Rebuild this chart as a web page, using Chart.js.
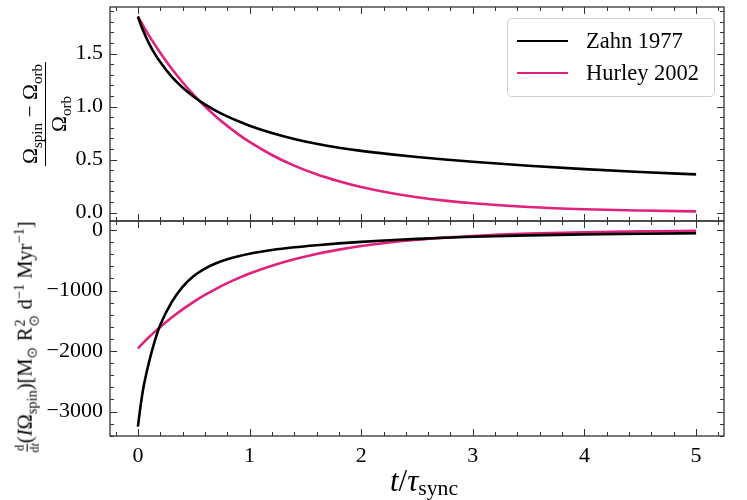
<!DOCTYPE html>
<html lang="en">
  <head>
    <meta charset="UTF-8" />
    <title>Spin synchronisation</title>
    <script src="https://cdn.jsdelivr.net/npm/chart.js"></script>
    <style>
      body {
        margin: 0;
        background: #fff;
        font-family: "Liberation Serif", serif;
        color: #000;
      }

      .wrap {
        position: relative;
        width: 747px;
        height: 500px;
      }

      .wrap canvas {
        position: absolute;
        left: 0;
        top: 0;
      }

      .label {
        position: absolute;
        white-space: nowrap;
        transform: translate(-50%, -50%);
        line-height: 1;
      }

      .rot {
        transform: translate(-50%, -50%) rotate(-90deg);
      }

      sub,
      sup {
        font-size: 70%;
        line-height: 0;
      }

      .supsub {
        display: inline-flex;
        flex-direction: column;
        vertical-align: middle;
        font-size: 70%;
        line-height: 1;
        margin-left: 1px;
      }

      .frac {
        display: inline-flex;
        flex-direction: column;
        align-items: center;
        vertical-align: middle;
      }

      .frac .num {
        border-bottom: 1.5px solid #000;
        padding: 0 2px 3px;
      }

      .frac .den {
        padding-top: 3px;
      }

      .small-frac {
        font-size: 60%;
      }

      .small-frac .num {
        border-bottom-width: 1px;
        padding: 0 1px 1px;
      }

      .small-frac .den {
        padding-top: 1px;
      }

      .xtitle sub {
        vertical-align: -0.2em;
      }

      .legend {
        position: absolute;
        left: 507px;
        top: 18px;
        width: 206px;
        height: 77px;
        border: 1px solid #d0d0d0;
        border-radius: 5px;
        background: rgba(255, 255, 255, 0.8);
        font-size: 22.5px;
      }

      .legend .row {
        position: absolute;
        left: 9px;
        display: flex;
        align-items: center;
      }

      .legend .swatch {
        display: inline-block;
        width: 51px;
        height: 2.5px;
        margin-right: 18px;
      }
    </style>
  </head>
  <body>
    <div class="wrap">
      <canvas id="topPanel" width="747" height="500"></canvas>
      <canvas id="bottomPanel" width="747" height="500"></canvas>

      <div class="label rot" style="left: 45px; top: 114px; font-size: 21.5px">
        <span class="frac">
          <span class="num">Ω<sub>spin</sub> − Ω<sub>orb</sub></span>
          <span class="den">Ω<sub>orb</sub></span>
        </span>
      </div>

      <div class="label rot" style="left: 27px; top: 337px; font-size: 20.5px">
        <span class="frac small-frac"><span class="num">d</span><span class="den">d<i>t</i></span></span>(<i>I</i>Ω<sub>spin</sub>)[M<sub>⊙</sub> R<span class="supsub"><span>2</span><span>⊙</span></span> d<sup>−1</sup> Myr<sup>−1</sup>]
      </div>

      <div class="label xtitle" style="left: 424px; top: 480px; font-size: 31px">
        <i>t</i>/<i>τ</i><sub>sync</sub>
      </div>

      <div class="legend">
        <div class="row" style="top: 9px"><span class="swatch" id="swZahn"></span>Zahn 1977</div>
        <div class="row" style="top: 41px"><span class="swatch" id="swHurley"></span>Hurley 2002</div>
      </div>
    </div>

    <script>
      // time in units of tau_sync
      const tVals = [
        0, 0.025, 0.05, 0.1, 0.15, 0.2, 0.3, 0.4, 0.5, 0.6, 0.7, 0.8, 0.9, 1.0,
        1.2, 1.4, 1.6, 1.8, 2.0, 2.25, 2.5, 2.75, 3.0, 3.5, 4.0, 4.5, 5.0,
      ];

      // top panel: (Omega_spin - Omega_orb) / Omega_orb
      const zahnRatio = [
        1.85, 1.775, 1.71, 1.595, 1.5, 1.42, 1.285, 1.18, 1.093, 1.021, 0.96,
        0.907, 0.861, 0.82, 0.751, 0.695, 0.649, 0.612, 0.582, 0.551, 0.524, 0.5,
        0.479, 0.442, 0.41, 0.383, 0.36,
      ];
      const hurleyRatio = [
        1.85, 1.803, 1.758, 1.67, 1.587, 1.509, 1.362, 1.23, 1.111, 1.003, 0.905,
        0.818, 0.738, 0.666, 0.543, 0.443, 0.361, 0.295, 0.24, 0.186, 0.144,
        0.112, 0.087, 0.052, 0.031, 0.019, 0.011,
      ];

      // bottom panel: d/dt (I Omega_spin)
      const zahnTorque = [
        -3251, -2895, -2600, -2180, -1840, -1570, -1200, -940, -760, -638, -548,
        -484, -432, -390, -330, -285, -250, -220, -195, -168, -145, -126, -110,
        -87, -71, -60, -52,
      ];
      const hurleyTorque = [
        -1955, -1907, -1860, -1769, -1683, -1601, -1449, -1311, -1186, -1073,
        -971, -878, -795, -719, -589, -482, -394, -323, -264, -206, -160, -125,
        -97, -59, -36, -22, -13,
      ];

      // tick positions
      const xMajor = [0, 1, 2, 3, 4, 5];
      const xMinor = [
        -0.2, 0.2, 0.4, 0.6, 0.8, 1.2, 1.4, 1.6, 1.8, 2.2, 2.4, 2.6, 2.8, 3.2,
        3.4, 3.6, 3.8, 4.2, 4.4, 4.6, 4.8, 5.2,
      ];
      const topMajor = [0, 0.5, 1.0, 1.5];
      const topMinor = [
        0.1, 0.2, 0.3, 0.4, 0.6, 0.7, 0.8, 0.9, 1.1, 1.2, 1.3, 1.4, 1.6, 1.7,
        1.8, 1.9,
      ];
      const bottomMajor = [-3000, -2000, -1000, 0];
      const bottomMinor = [
        -3400, -3200, -2800, -2600, -2400, -2200, -1800, -1600, -1400, -1200,
        -800, -600, -400, -200,
      ];

      const ZAHN_COLOR = "#000000";
      const HURLEY_COLOR = "#e0227c";
      const FRAME_COLOR = "#333333";
      const TICK_FONT = { family: "'Liberation Serif', serif", size: 22 };

      document.getElementById("swZahn").style.background = ZAHN_COLOR;
      document.getElementById("swHurley").style.background = HURLEY_COLOR;

      // inward major/minor ticks on all four sides plus the box
      const frameTicks = {
        id: "frameTicks",
        afterDatasetsDraw(chart, args, opts) {
          const { ctx, chartArea: a } = chart;
          const xs = chart.scales.x;
          const ys = chart.scales.y;
          ctx.save();
          ctx.strokeStyle = FRAME_COLOR;
          ctx.lineWidth = 1;
          ctx.beginPath();
          const markX = (vals, len) =>
            vals.forEach((v) => {
              const px = Math.round(xs.getPixelForValue(v)) + 0.5;
              ctx.moveTo(px, a.bottom);
              ctx.lineTo(px, a.bottom - len);
              ctx.moveTo(px, a.top);
              ctx.lineTo(px, a.top + len);
            });
          const markY = (vals, len) =>
            vals.forEach((v) => {
              const py = Math.round(ys.getPixelForValue(v)) + 0.5;
              ctx.moveTo(a.left, py);
              ctx.lineTo(a.left + len, py);
              ctx.moveTo(a.right, py);
              ctx.lineTo(a.right - len, py);
            });
          markX(xMajor, 7);
          markX(xMinor, 4);
          markY(opts.yMajor, 7);
          markY(opts.yMinor, 4);
          ctx.stroke();
          ctx.lineWidth = 1.3;
          ctx.strokeRect(a.left, a.top, a.right - a.left, a.bottom - a.top);
          ctx.restore();
        },
      };

      function makeSeries(label, values, color) {
        return {
          label: label,
          data: tVals.map((t, i) => ({ x: t, y: values[i] })),
          borderColor: color,
          borderWidth: 2.6,
          pointRadius: 0,
          fill: false,
          cubicInterpolationMode: "monotone",
        };
      }

      function makePanel(id, datasets, cfg) {
        return new Chart(document.getElementById(id), {
          type: "line",
          data: { datasets: datasets },
          options: {
            responsive: false,
            animation: false,
            layout: { padding: cfg.padding },
            plugins: {
              legend: { display: false },
              tooltip: { enabled: false },
              frameTicks: { yMajor: cfg.yMajor, yMinor: cfg.yMinor },
            },
            scales: {
              x: {
                type: "linear",
                min: -0.25,
                max: 5.25,
                grid: { display: false, drawTicks: false },
                border: { display: false },
                ticks: {
                  display: cfg.xLabels,
                  padding: 7,
                  maxRotation: 0,
                  color: "#000",
                  font: TICK_FONT,
                  callback: (v) => String(v),
                },
                afterBuildTicks: (s) => {
                  s.ticks = xMajor.map((v) => ({ value: v }));
                },
                afterFit: (s) => {
                  s.height = cfg.xLabels ? 64 : 0;
                  s.paddingLeft = 0;
                  s.paddingRight = 0;
                },
              },
              y: {
                type: "linear",
                min: cfg.yMin,
                max: cfg.yMax,
                grid: { display: false, drawTicks: false },
                border: { display: false },
                ticks: {
                  padding: 7,
                  color: "#000",
                  font: TICK_FONT,
                  callback: cfg.yFormat,
                },
                afterBuildTicks: (s) => {
                  s.ticks = cfg.yMajor.map((v) => ({ value: v }));
                },
                afterFit: (s) => {
                  s.width = 110;
                  s.paddingTop = 0;
                  s.paddingBottom = 0;
                },
              },
            },
          },
          plugins: [frameTicks],
        });
      }

      makePanel(
        "topPanel",
        [
          makeSeries("Zahn 1977", zahnRatio, ZAHN_COLOR),
          makeSeries("Hurley 2002", hurleyRatio, HURLEY_COLOR),
        ],
        {
          padding: { top: 7, right: 23, bottom: 279, left: 0 },
          yMin: -0.08,
          yMax: 1.94,
          yMajor: topMajor,
          yMinor: topMinor,
          yFormat: (v) => Number(v).toFixed(1),
          xLabels: false,
        }
      );

      makePanel(
        "bottomPanel",
        [
          makeSeries("Zahn 1977", zahnTorque, ZAHN_COLOR),
          makeSeries("Hurley 2002", hurleyTorque, HURLEY_COLOR),
        ],
        {
          padding: { top: 221, right: 23, bottom: 0, left: 0 },
          yMin: -3405,
          yMax: 150,
          yMajor: bottomMajor,
          yMinor: bottomMinor,
          yFormat: (v) => (v < 0 ? "\u2212" + Math.abs(v) : String(v)),
          xLabels: true,
        }
      );
    </script>
  </body>
</html>
